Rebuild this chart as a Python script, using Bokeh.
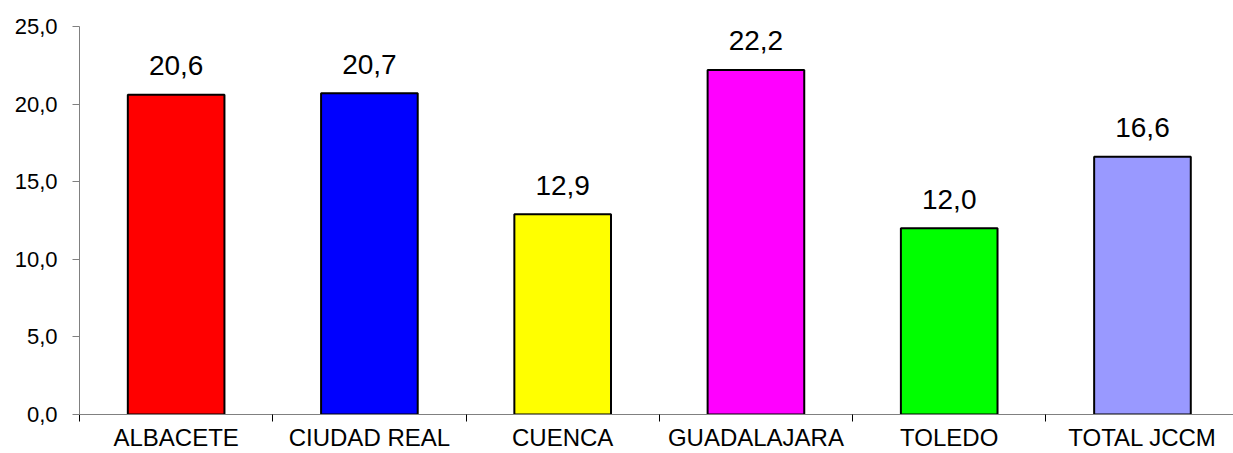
from bokeh.plotting import figure
from bokeh.models import Range1d, FixedTicker, ColumnDataSource
from bokeh.embed import file_html
from bokeh.resources import INLINE
from bokeh.core.properties import value

categories = ["ALBACETE", "CIUDAD REAL", "CUENCA", "GUADALAJARA", "TOLEDO", "TOTAL JCCM"]
values = [20.6, 20.7, 12.9, 22.2, 12.0, 16.6]
colors = ["#FF0000", "#0000FF", "#FFFF00", "#FF00FF", "#00FF00", "#9999FF"]
y_ticks = [0, 5, 10, 15, 20, 25]
y_tick_labels = ["0,0", "5,0", "10,0", "15,0", "20,0", "25,0"]

FONT = "Liberation Sans"

xs = list(range(len(categories)))
labels = [f"{v:.1f}".replace(".", ",") for v in values]
src = ColumnDataSource(dict(x=xs, top=values, color=colors, label=labels))

p = figure(width=1233, height=453, output_backend="svg", toolbar_location=None,
           x_range=Range1d(-0.5, 5.471), y_range=Range1d(0, 25),
           min_border_left=79, min_border_right=0, min_border_top=26, min_border_bottom=39)
p.outline_line_color = None
p.xgrid.visible = False
p.ygrid.visible = False
p.background_fill_color = "white"

p.vbar(x="x", top="top", width=0.5, bottom=0, source=src, fill_color="color",
       line_color="black", line_width=2)
p.text(x="x", y="top", text="label", source=src, text_align="center",
       text_baseline="alphabetic", y_offset=-29, text_font=value(FONT),
       text_font_size="28px", text_color="black")

# x axis
p.xaxis.ticker = FixedTicker(ticks=xs, minor_ticks=[i - 0.5 for i in range(len(categories) + 1)])
p.xaxis.major_label_overrides = {i: c for i, c in enumerate(categories)}
p.xaxis.major_tick_line_color = None
p.xaxis.major_tick_out = 0
p.xaxis.major_tick_in = 0
p.xaxis.minor_tick_out = 7
p.xaxis.minor_tick_in = 0
p.xaxis.minor_tick_line_color = "black"
p.xaxis.axis_line_color = "#808080"
p.xaxis.major_label_text_font = FONT
p.xaxis.major_label_text_font_size = "24px"
p.xaxis.major_label_text_color = "black"
p.xaxis.major_label_standoff = 2

# y axis
p.yaxis.ticker = FixedTicker(ticks=y_ticks, minor_ticks=[])
p.yaxis.major_label_overrides = {t: l for t, l in zip(y_ticks, y_tick_labels)}
p.yaxis.major_tick_out = 7
p.yaxis.major_tick_in = 0
p.yaxis.major_tick_line_color = "#808080"
p.yaxis.minor_tick_line_color = None
p.yaxis.axis_line_color = "#808080"
p.yaxis.major_label_text_font = FONT
p.yaxis.major_label_text_font_size = "22px"
p.yaxis.major_label_text_color = "black"
p.yaxis.major_label_standoff = 15

open("out.html", "w").write(file_html(p, INLINE))
